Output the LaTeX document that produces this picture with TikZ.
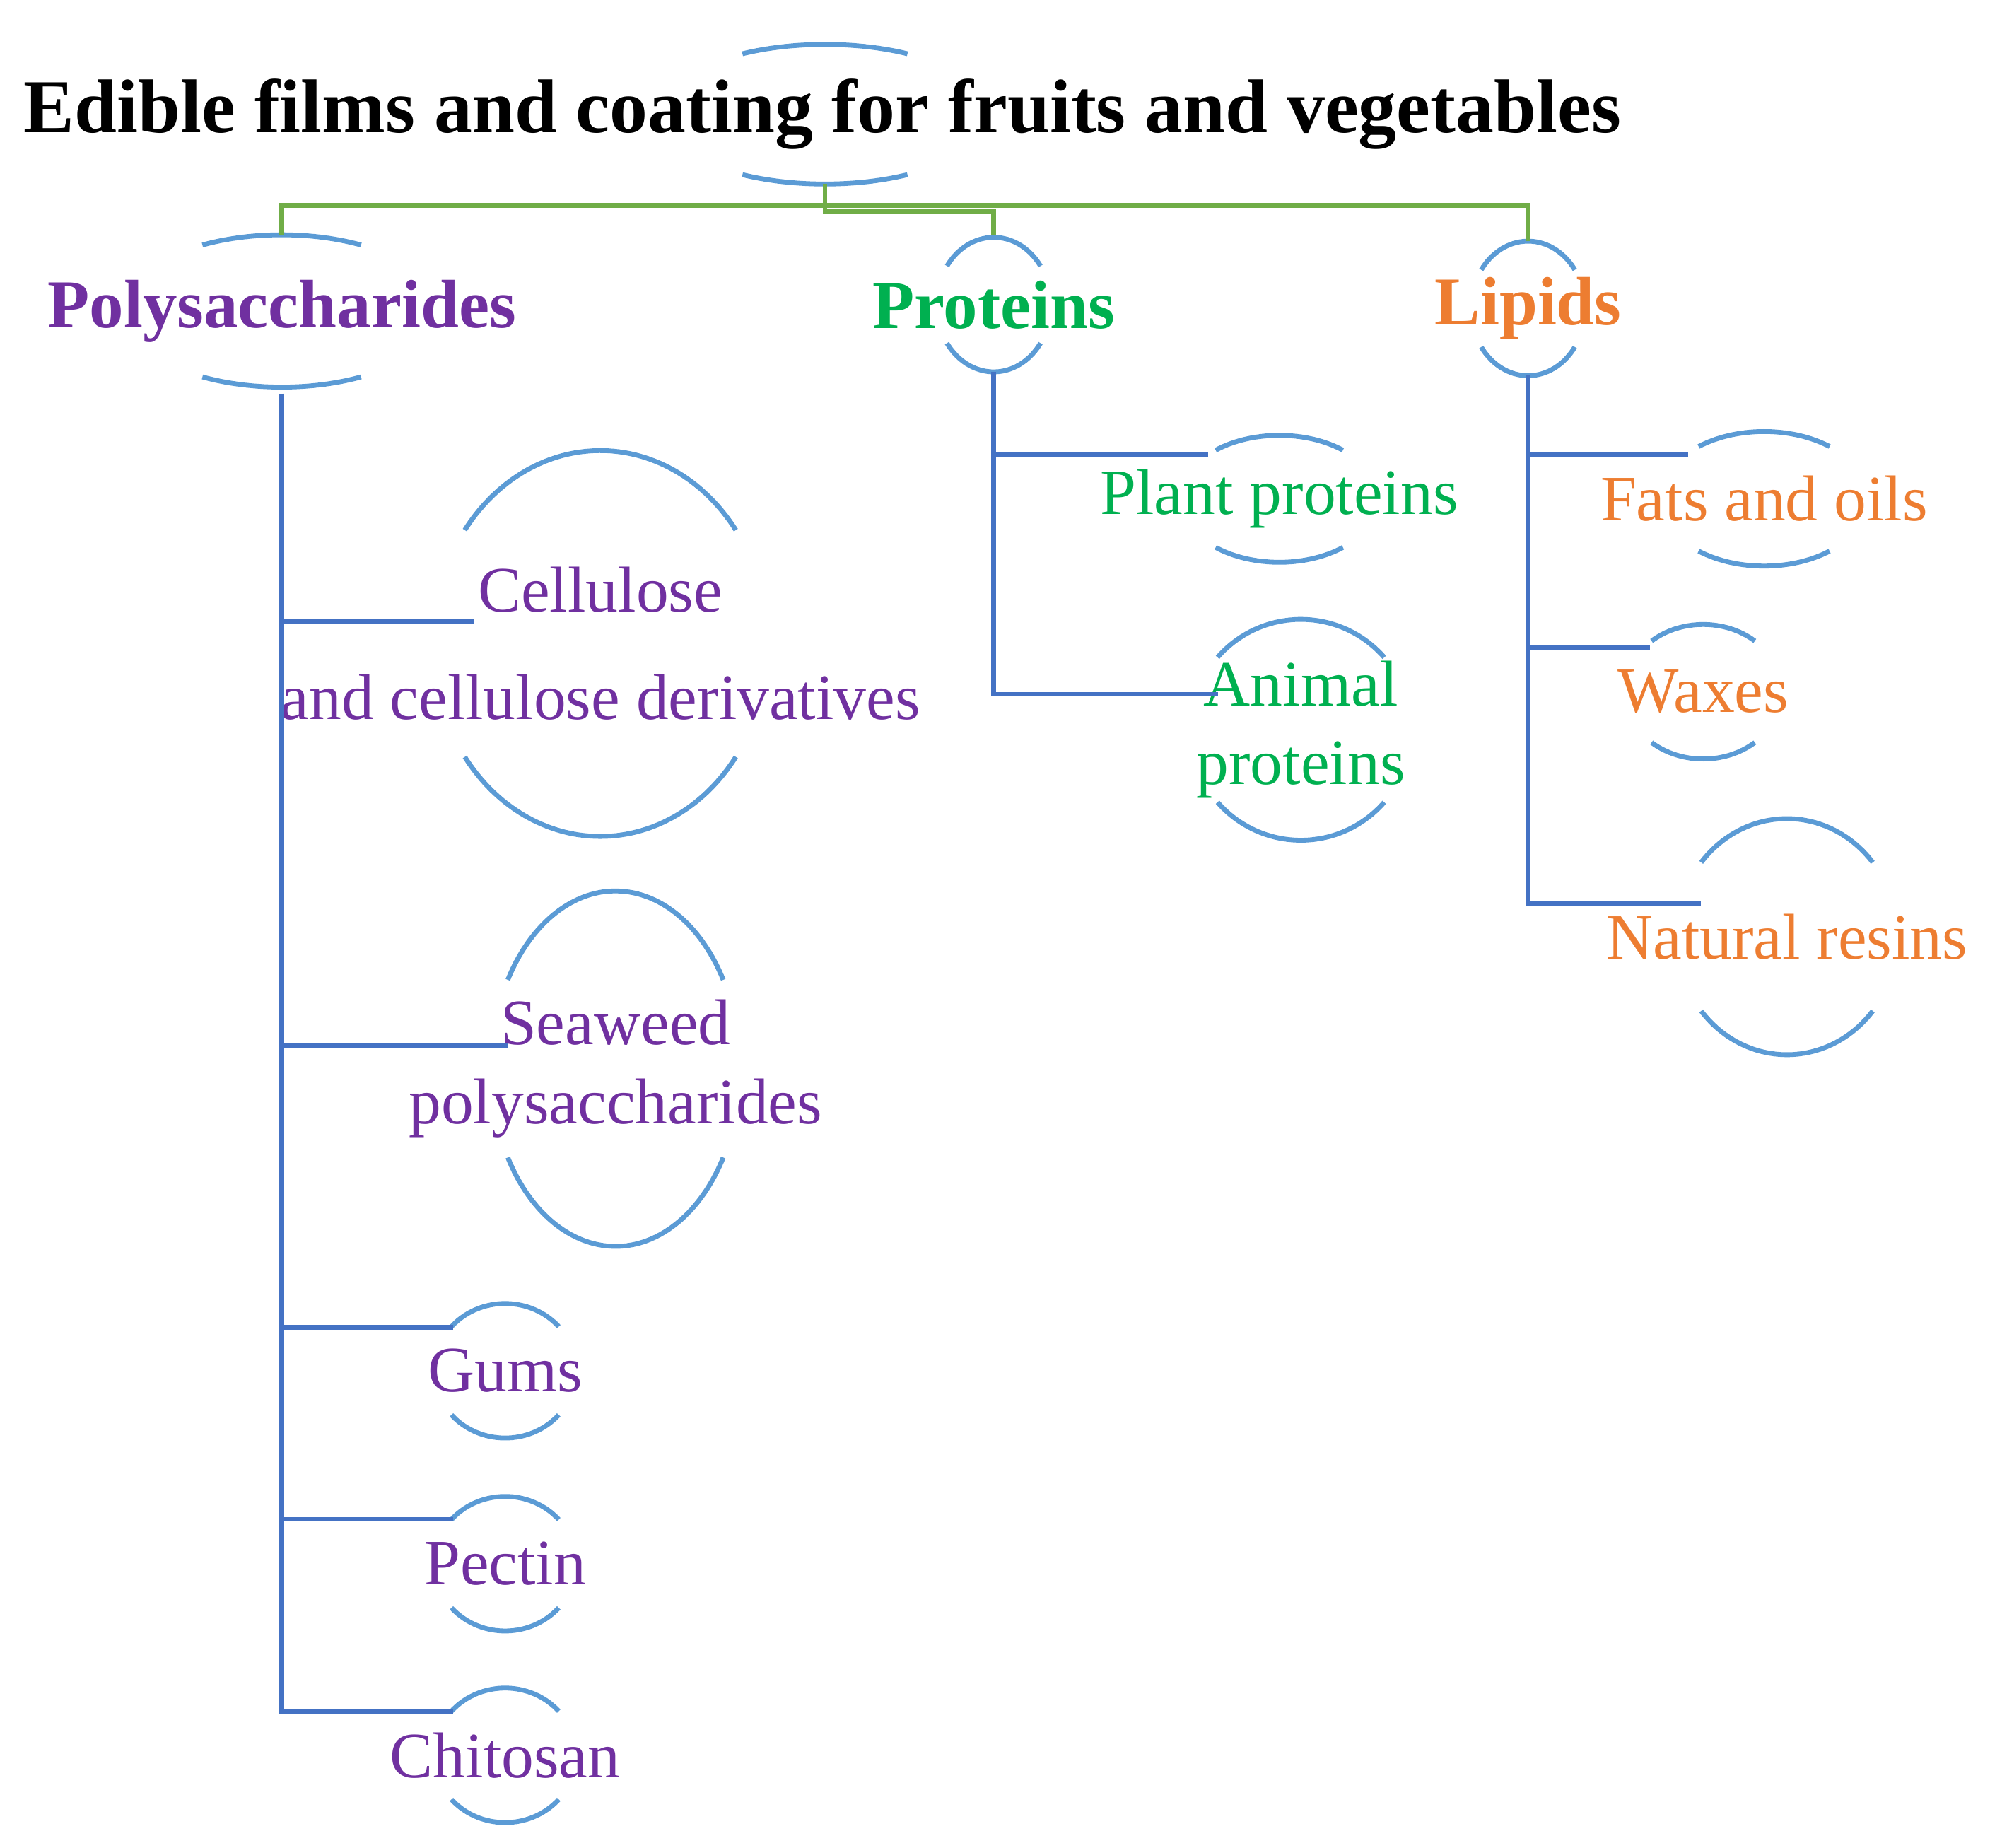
\documentclass[tikz,border=0pt]{standalone}
\usepackage{fontspec}
\setmainfont{Liberation Serif}
\begin{document}
\begin{tikzpicture}[x=0.5pt,y=0.5pt,
  arcst/.style={draw=arcblue,line width=1.9pt},
  tree/.style={draw=treeblue,line width=1.9pt},
  gtree/.style={draw=treegreen,line width=1.9pt},
  lbl/.style={font=\fontsize{25.5}{31}\selectfont,align=center,inner sep=0pt},
  cat/.style={font=\fontsize{27}{32}\selectfont\bfseries,inner sep=0pt}]
\definecolor{arcblue}{HTML}{5B9BD5}
\definecolor{treeblue}{HTML}{4472C4}
\definecolor{treegreen}{HTML}{70AD47}
\definecolor{purp}{HTML}{7030A0}
\definecolor{grn}{HTML}{00B050}
\definecolor{orng}{HTML}{ED7D31}
\useasboundingbox (0,0) rectangle (1568,-1456);
\newcommand{\brk}[5]{%
  \draw[arcst] ({#1+#3*cos(#5)},{-#2+#4*sin(#5)}) arc[start angle=#5,end angle={180-#5},x radius=#3,y radius=#4];
  \draw[arcst] ({#1-#3*cos(#5)},{-#2-#4*sin(#5)}) arc[start angle={180+#5},end angle={360-#5},x radius=#3,y radius=#4];}
% title
\node[font=\fontsize{30}{34}\selectfont\bfseries,inner sep=0pt] (title) at (648,-90) {Edible films and coating for fruits and vegetables};
\brk{650}{90}{130}{55}{60}
\node[cat,text=purp] (poly) at (222,-245) {Polysaccharides};
\brk{222}{245}{125}{60}{60}
\node[cat,text=grn] (prot) at (783,-240) {Proteins};
\brk{783}{240}{45}{53}{35}
\node[cat,text=orng] (lip) at (1204,-243) {Lipids};
\brk{1204}{243}{45}{53}{35}
% green connectors
\coordinate (t0) at (650,-145);
\coordinate (p0) at (222,-185);
\coordinate (r0) at (783,-185);
\coordinate (l0) at (1204,-190);
\draw[gtree] (t0) -- (650,-167) -- (783,-167) -- (r0);
\draw[gtree] (p0) -- (222,-162) -- (1204,-162) -- (l0);
% polysaccharides
\node[lbl,text=purp] (cell) at (473,-507) {Cellulose\\[0.45em]and cellulose derivatives};
\brk{473}{507}{132}{152}{36}
\node[lbl,text=purp] (sea) at (485,-842) {Seaweed\\polysaccharides};
\brk{485}{842}{98}{140}{30}
\node[lbl,text=purp] (gum) at (398,-1080) {Gums};
\brk{398}{1080}{56}{53}{41}
\node[lbl,text=purp] (pec) at (398,-1232) {Pectin};
\brk{398}{1232}{56}{53}{41}
\node[lbl,text=purp] (chi) at (398,-1383) {Chitosan};
\brk{398}{1383}{56}{53}{41}
\coordinate (pt) at (222,-310);
\coordinate (pb) at (222,-1349);
\draw[tree] (pt) -- (pb) -- (357,-1349);
\draw[tree] (222,-490) -- (373,-490);
\draw[tree] (222,-824) -- (400,-824);
\draw[tree] (222,-1046) -- (357,-1046);
\draw[tree] (222,-1197) -- (357,-1197);
% proteins
\node[lbl,text=grn] (plant) at (1008,-393) {Plant proteins};
\brk{1008}{393}{78}{50}{50}
\node[lbl,text=grn] (anim) at (1025,-575) {Animal\\proteins};
\brk{1025}{575}{87}{87}{41}
\coordinate (rt) at (783,-293);
\draw[tree] (rt) -- (783,-547) -- (960,-547);
\draw[tree] (783,-358) -- (952,-358);
% lipids
\node[lbl,text=orng] (fat) at (1390,-393) {Fats and oils};
\brk{1390}{393}{82}{53}{51}
\node[lbl,text=orng] (wax) at (1342,-545) {Waxes};
\brk{1342}{545}{62}{53}{49}
\node[lbl,text=orng] (res) at (1408,-738) {Natural resins};
\brk{1408}{738}{87}{93}{39}
\coordinate (lt) at (1204,-295);
\draw[tree] (lt) -- (1204,-712) -- (1340,-712);
\draw[tree] (1204,-358) -- (1330,-358);
\draw[tree] (1204,-510) -- (1300,-510);
\end{tikzpicture}
\end{document}
